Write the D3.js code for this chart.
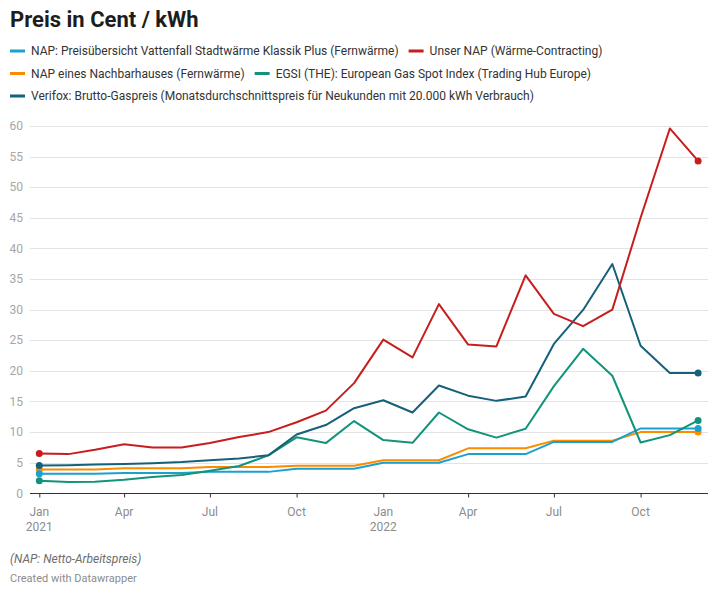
<!DOCTYPE html>
<html>
<head>
<meta charset="utf-8">
<script src="https://cdn.jsdelivr.net/npm/d3@7"></script>
<style>
  html, body { margin: 0; padding: 0; background: #fff; }
  svg { display: block; font-family: Roboto, "Noto Sans", sans-serif; }
</style>
</head>
<body>
<svg id="chart" width="720" height="589"></svg>
<script>
// ---------- DATA ----------
const months = ["2021-01","2021-02","2021-03","2021-04","2021-05","2021-06","2021-07","2021-08","2021-09","2021-10","2021-11","2021-12",
                "2022-01","2022-02","2022-03","2022-04","2022-05","2022-06","2022-07","2022-08","2022-09","2022-10","2022-11","2022-12"];

const seriesNames = [
  "NAP: Preisübersicht Vattenfall Stadtwärme Klassik Plus (Fernwärme)",
  "Unser NAP (Wärme-Contracting)",
  "NAP eines Nachbarhauses (Fernwärme)",
  "EGSI (THE): European Gas Spot Index (Trading Hub Europe)",
  "Verifox: Brutto-Gaspreis (Monatsdurchschnittspreis für Neukunden mit 20.000 kWh Verbrauch)"
];
const seriesColors = ["#1aa1cf", "#c71e1d", "#fa8c00", "#12937a", "#15607a"];

const napVattenfall = [3.2,3.2,3.2,3.3,3.3,3.3,3.5,3.5,3.5,4.0,4.0,4.0, 5.0,5.0,5.0,6.4,6.4,6.4,8.4,8.4,8.4,10.6,10.6,10.6];
const unserNap      = [6.5,6.4,7.1,8.0,7.5,7.5,8.2,9.2,10.0,11.6,13.5,18.0, 25.1,22.2,30.9,24.3,24.0,35.6,29.3,27.3,30.0,45.0,59.6,54.3];
const napNachbar    = [3.9,3.9,3.9,4.1,4.1,4.1,4.3,4.3,4.3,4.5,4.5,4.5, 5.4,5.4,5.4,7.35,7.35,7.35,8.6,8.6,8.6,10.0,10.0,10.0];
const egsi          = [2.05,1.85,1.9,2.2,2.65,3.0,3.7,4.45,6.2,9.15,8.2,11.8, 8.7,8.25,13.2,10.45,9.1,10.55,17.5,23.6,19.2,8.3,9.5,11.9];
const verifox       = [4.55,4.6,4.7,4.8,4.9,5.1,5.4,5.7,6.2,9.6,11.15,13.9, 15.2,13.2,17.6,15.95,15.1,15.8,24.4,29.95,37.45,24.1,19.65,19.65];

const seriesValues = [napVattenfall, unserNap, napNachbar, egsi, verifox];
const drawOrder = [2, 0, 3, 4, 1];

const yTicks = [0,5,10,15,20,25,30,35,40,45,50,55,60];
const xTickMonths = ["2021-01","2021-04","2021-07","2021-10","2022-01","2022-04","2022-07","2022-10"];
const monthLabels = ["Jan","Feb","Mar","Apr","May","Jun","Jul","Aug","Sep","Oct","Nov","Dec"];

const titleText = "Preis in Cent / kWh";
const noteText = "(NAP: Netto-Arbeitspreis)";
const creditText = "Created with Datawrapper";

// ---------- CHART ----------
const svg = d3.select("#chart");
const parse = d3.timeParse("%Y-%m");
const dates = months.map(parse);

const x = d3.scaleTime()
  .domain([dates[0], dates[dates.length - 1]])
  .range([39.3, 698.1]);
const y = d3.scaleLinear().domain([0, 60]).range([493.3, 126]);

const gridX0 = 30, gridX1 = 708;

// Title
svg.append("text")
  .attr("x", 10).attr("y", 27)
  .attr("font-size", 22).attr("font-weight", 700)
  .attr("fill", "#1d1d1d")
  .text(titleText);

// Legend (flowing layout)
const legend = svg.append("g");
let lx = 10, ly = 51;
seriesNames.forEach((name, i) => {
  const g = legend.append("g");
  g.append("line")
    .attr("x1", 0).attr("x2", 15).attr("y1", 0).attr("y2", 0)
    .attr("stroke", seriesColors[i]).attr("stroke-width", 3);
  const t = g.append("text")
    .attr("x", 21).attr("y", 0).attr("dy", "0.35em")
    .attr("font-size", 12).attr("fill", "#333")
    .text(name);
  const w = 21 + t.node().getComputedTextLength();
  if (lx > 10 && lx + w > 710) { lx = 10; ly += 22.5; }
  g.attr("transform", `translate(${lx},${ly})`);
  lx += w + 10;
});

// Grid lines + y labels
const grid = svg.append("g");
grid.selectAll("line")
  .data(yTicks.filter(d => d !== 0))
  .join("line")
  .attr("x1", gridX0).attr("x2", gridX1)
  .attr("y1", d => Math.round(y(d)) + 0.5).attr("y2", d => Math.round(y(d)) + 0.5)
  .attr("stroke", "#e3e3e3").attr("stroke-width", 1);

svg.append("g").selectAll("text")
  .data(yTicks)
  .join("text")
  .attr("x", 23).attr("y", d => y(d)).attr("dy", "0.35em")
  .attr("text-anchor", "end")
  .attr("font-size", 12).attr("fill", "#a6a6a6")
  .text(d => d);

// X axis
const xAxisG = svg.append("g").attr("transform", `translate(0,${Math.round(y(0)) + 0.5})`);
xAxisG.append("line")
  .attr("x1", gridX0).attr("x2", gridX1)
  .attr("stroke", "#333").attr("stroke-width", 1);

const xTickDates = xTickMonths.map(parse);
const xAxis = d3.axisBottom(x)
  .tickValues(xTickDates)
  .tickSize(4)
  .tickSizeOuter(0)
  .tickFormat("");
const axG = xAxisG.append("g").call(xAxis);
axG.select(".domain").remove();
axG.selectAll(".tick line").attr("stroke", "#333");

const lbl = xAxisG.append("g");
xTickDates.forEach(d => {
  const t = lbl.append("text")
    .attr("x", x(d)).attr("y", 22)
    .attr("text-anchor", "middle")
    .attr("font-size", 12).attr("fill", "#8c8c8c");
  t.append("tspan").attr("x", x(d)).text(monthLabels[d.getMonth()]);
  if (d.getMonth() === 0) {
    t.append("tspan").attr("x", x(d)).attr("dy", 15).text(d.getFullYear());
  }
});

// Lines
const line = d3.line()
  .x((d, i) => x(dates[i]))
  .y(d => y(d));

const linesG = svg.append("g");
drawOrder.forEach(si => {
  const vals = seriesValues[si];
  linesG.append("path")
    .datum(vals)
    .attr("fill", "none")
    .attr("stroke", seriesColors[si])
    .attr("stroke-width", 2)
    .attr("stroke-linejoin", "round")
    .attr("d", line);
});
drawOrder.forEach(si => {
  const vals = seriesValues[si];
  const ends = [0, vals.length - 1];
  linesG.selectAll(null)
    .data(ends)
    .join("circle")
    .attr("cx", i => x(dates[i]))
    .attr("cy", i => y(vals[i]))
    .attr("r", 3.5)
    .attr("fill", seriesColors[si]);
});

// Footer
svg.append("text")
  .attr("x", 10).attr("y", 563)
  .attr("font-size", 12).attr("font-style", "italic")
  .attr("fill", "#6e6e6e")
  .text(noteText);
svg.append("text")
  .attr("x", 10).attr("y", 582)
  .attr("font-size", 11)
  .attr("fill", "#8c8c8c")
  .text(creditText);
</script>
</body>
</html>
